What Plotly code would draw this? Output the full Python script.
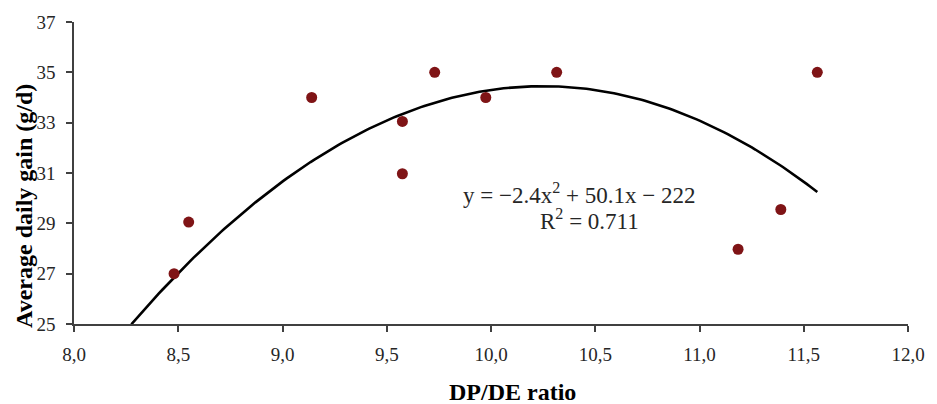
import numpy as np
import plotly.graph_objects as go

# Observed data (DP/DE ratio vs average daily gain)
dp_de_ratio = [8.48, 8.55, 9.14, 9.575, 9.575, 9.73, 9.975, 10.315, 11.565, 11.39, 11.185]
avg_daily_gain = [27.0, 29.05, 34.0, 33.05, 30.97, 35.0, 34.0, 35.0, 35.0, 29.55, 27.97]

# Quadratic trendline coefficients (as drawn), and the range it spans
trend_coeffs = [-2.428, 49.77, -220.6]
trend_range = [8.275, 11.565]

x_ticks = [8.0, 8.5, 9.0, 9.5, 10.0, 10.5, 11.0, 11.5, 12.0]
y_ticks = [25, 27, 29, 31, 33, 35, 37]

xs = np.linspace(trend_range[0], trend_range[1], 200)
ys = np.polyval(trend_coeffs, xs)

serif = "Liberation Serif"
axis_col = "#404040"
text_col = "#262626"

fig = go.Figure()
fig.add_trace(go.Scatter(x=xs, y=ys, mode="lines",
                         line=dict(color="black", width=2.6), hoverinfo="skip"))
fig.add_trace(go.Scatter(x=dp_de_ratio, y=avg_daily_gain, mode="markers",
                         marker=dict(color="#7f1416", size=11)))

fig.update_layout(
    width=937, height=404,
    margin=dict(l=74, r=23, t=20, b=80),
    paper_bgcolor="white", plot_bgcolor="white",
    showlegend=False,
    separators=",.",
    font=dict(family=serif, color=text_col, size=19),
    xaxis=dict(range=[8, 12], tickvals=x_ticks, tickformat=".1f",
               showgrid=False, zeroline=False, showline=True,
               linecolor=axis_col, linewidth=1.5,
               ticks="outside", ticklen=6, tickcolor=axis_col, tickwidth=1.5,
               ticklabelstandoff=6,
               tickfont=dict(family=serif, size=19, color=text_col)),
    yaxis=dict(range=[25, 37], tickvals=y_ticks,
               showgrid=False, zeroline=False, showline=True,
               linecolor=axis_col, linewidth=1.5,
               ticks="outside", ticklen=6, tickcolor=axis_col, tickwidth=1.5,
               ticklabelstandoff=7,
               tickfont=dict(family=serif, size=19, color=text_col)),
    annotations=[
        dict(text="<b>Average daily gain (g/d)</b>", xref="paper", yref="paper",
             x=-0.060, y=0.391, textangle=-90, showarrow=False,
             xanchor="center", yanchor="middle",
             font=dict(family=serif, size=24, color="black")),
        dict(text="<b>DP/DE ratio</b>", xref="paper", yref="paper",
             x=0.526, y=-0.224, showarrow=False,
             xanchor="center", yanchor="middle",
             font=dict(family=serif, size=24, color="black")),
        dict(text="y = −2.4x<sup>2</sup> + 50.1x − 222", xref="x", yref="y",
             x=10.424, y=30.2, showarrow=False,
             xanchor="center", yanchor="middle",
             font=dict(family=serif, size=23, color=text_col)),
        dict(text="R<sup>2</sup> = 0.711", xref="x", yref="y",
             x=10.471, y=29.15, showarrow=False,
             xanchor="center", yanchor="middle",
             font=dict(family=serif, size=23, color=text_col)),
    ],
)

fig.write_html("out.html",
               config={"displayModeBar": False},
               post_script="document.body.style.margin='0';document.body.style.overflow='hidden';")
